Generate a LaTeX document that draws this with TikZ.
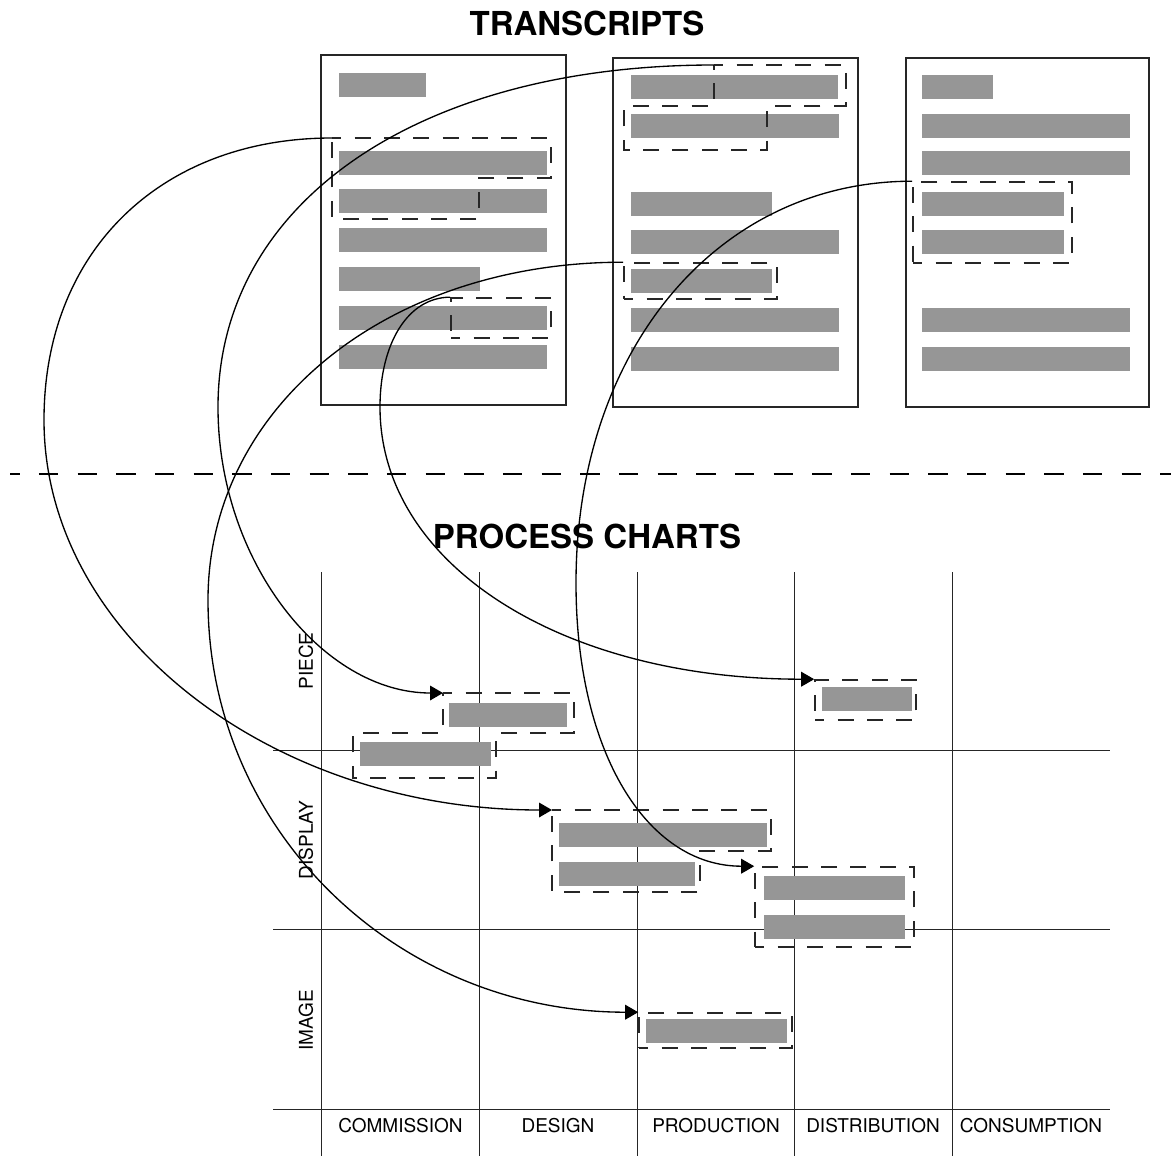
\documentclass[tikz,border=0pt]{standalone}
\usepackage{fontspec}
\setmainfont{TeX Gyre Heros}
\usepackage{xcolor}
\usepackage{tikz}
\usetikzlibrary{arrows.meta, positioning, fit}
\definecolor{barfill}{RGB}{150,150,150}

\begin{document}
\begin{tikzpicture}[
    x=0.75pt, y=-0.75pt,
    doc/.style={draw=black!85, line width=1.1pt, inner sep=0pt},
    bar/.style={fill=barfill},
    sel/.style={draw=black!85, line width=1.2pt, dash pattern=on 12pt off 10pt, dash phase=5pt, inner sep=0pt},
    lane/.style={draw=black!85, line width=0.75pt},
    heading/.style={font=\fontsize{24.75}{28}\selectfont\bfseries, anchor=base, inner sep=0pt},
    lbl/.style={font=\fontsize{14.25}{16}\selectfont, inner sep=0pt},
    arr/.style={-{Triangle[length=9.75pt, width=11pt]}, line width=1pt}
]
    \useasboundingbox (0,0) rectangle (1171,1156);

    % Titles
    \node[heading] (transcripts) at (587,36) {TRANSCRIPTS};
    \node[heading] (charts) at (587,548) {PROCESS CHARTS};
    \draw[line width=1pt, dash pattern=on 14.5pt off 14.5pt, dash phase=7.3pt] (10,474) -- (1171,474);

    % Transcripts
    \node[doc, fit={(321,55) (566,405)}] (doc1) {};
    \node[doc, fit={(613,58) (858,407)}] (doc2) {};
    \node[doc, fit={(906,58) (1149,407)}] (doc3) {};
    \foreach \r/\t in {426/73, 547/151, 547/189, 547/228, 480/267, 547/306, 547/345}
        \fill[bar] (339,\t) rectangle (\r,\t+24);
    \foreach \r/\t in {838/75, 839/114, 772/192, 839/230, 772/269, 839/308, 839/347}
        \fill[bar] (631,\t) rectangle (\r,\t+24);
    \foreach \r/\t in {993/75, 1130/114, 1130/151, 1064/192, 1064/230, 1130/308, 1130/347}
        \fill[bar] (922,\t) rectangle (\r,\t+24);

    % Selections in transcripts
    \draw[sel] (332,138) coordinate (selA) -- (551,138) -- (551,178) -- (479,178) -- (479,219) -- (332,219) -- cycle;
    \node[sel, fit={(451,298) (551,338)}] (selB) {};
    \draw[sel] (714,65) coordinate (selC) -- (846,65) -- (846,106) -- (767,106) -- (767,150) -- (624,150) -- (624,106) -- (714,106) -- cycle;
    \node[sel, fit={(913,182) (1072,263)}] (selE) {};
    \node[sel, fit={(624,263) (777,299)}] (selF) {};

    % Process chart grid
    \foreach \x in {321.7, 479.3, 637, 794.3, 952}
        \draw[lane] (\x,572) -- (\x,1156);
    \foreach \y in {750, 929.5, 1109}
        \draw[lane] (273,\y) -- (1110,\y);
    \foreach \n/\x/\t in {commission/400.5/COMMISSION, design/558/DESIGN, production/716/PRODUCTION, distribution/873/DISTRIBUTION, consumption/1031/CONSUMPTION}
        \node[lbl] (\n) at (\x,1126) {\t};
    \foreach \n/\y/\t in {piece/661/PIECE, display/840/DISPLAY, image/1020/IMAGE}
        \node[lbl, rotate=90] (\n) at (306,\y) {\t};

    % Chart entries
    \fill[bar] (449,703) rectangle (567,727);
    \fill[bar] (360,742) rectangle (491,766);
    \fill[bar] (822,687) rectangle (912,711);
    \fill[bar] (559,823) rectangle (767,847);
    \fill[bar] (559,862) rectangle (695,886);
    \fill[bar] (764,876) rectangle (905,900);
    \fill[bar] (764,915) rectangle (905,939);
    \fill[bar] (646,1019) rectangle (787,1043);
    \draw[sel] (443,693) coordinate (pieceA) -- (574,693) -- (574,733) -- (496,733) -- (496,778) -- (353,778) -- (353,733) -- (443,733) -- cycle;
    \node[sel, fit={(815,680) (916,720)}] (pieceD) {};
    \draw[sel] (552,810) coordinate (dispA) -- (771,810) -- (771,851) -- (700,851) -- (700,892) -- (552,892) -- cycle;
    \node[sel, fit={(755,867) (914,947)}] (dispD) {};
    \node[sel, fit={(639,1013) (792,1048)}] (imgP) {};

    % Arrows
    \coordinate (bendA) at (44,420);
    \coordinate (bendB) at (380,407);
    \coordinate (bendC) at (218,407);
    \coordinate (bendE) at (576,583);
    \coordinate (bendF) at (208,600);
    \draw[arr] (selA) .. controls +(-170,0) and +(0,-170) .. (bendA)
        .. controls +(0,215) and +(-280,0) .. (dispA);
    \draw[arr] (selC) .. controls +(-295,0) and +(0,-205) .. (bendC)
        .. controls +(0,155) and +(-120,0) .. (pieceA);
    \draw[arr] (selB.north west) .. controls +(-42,0) and +(0,-64) .. (bendB)
        .. controls +(0,158) and +(-252,0) .. (pieceD.north west);
    \draw[arr] (selE.north west) .. controls +(-195,0) and +(0,-233) .. (bendE)
        .. controls +(0,170) and +(-107,0) .. (dispD.north west);
    \draw[arr] (selF.north west) .. controls +(-237,0) and +(0,-192) .. (bendF)
        .. controls +(0,231) and +(-241,0) .. (imgP.north west);
\end{tikzpicture}
\end{document}
